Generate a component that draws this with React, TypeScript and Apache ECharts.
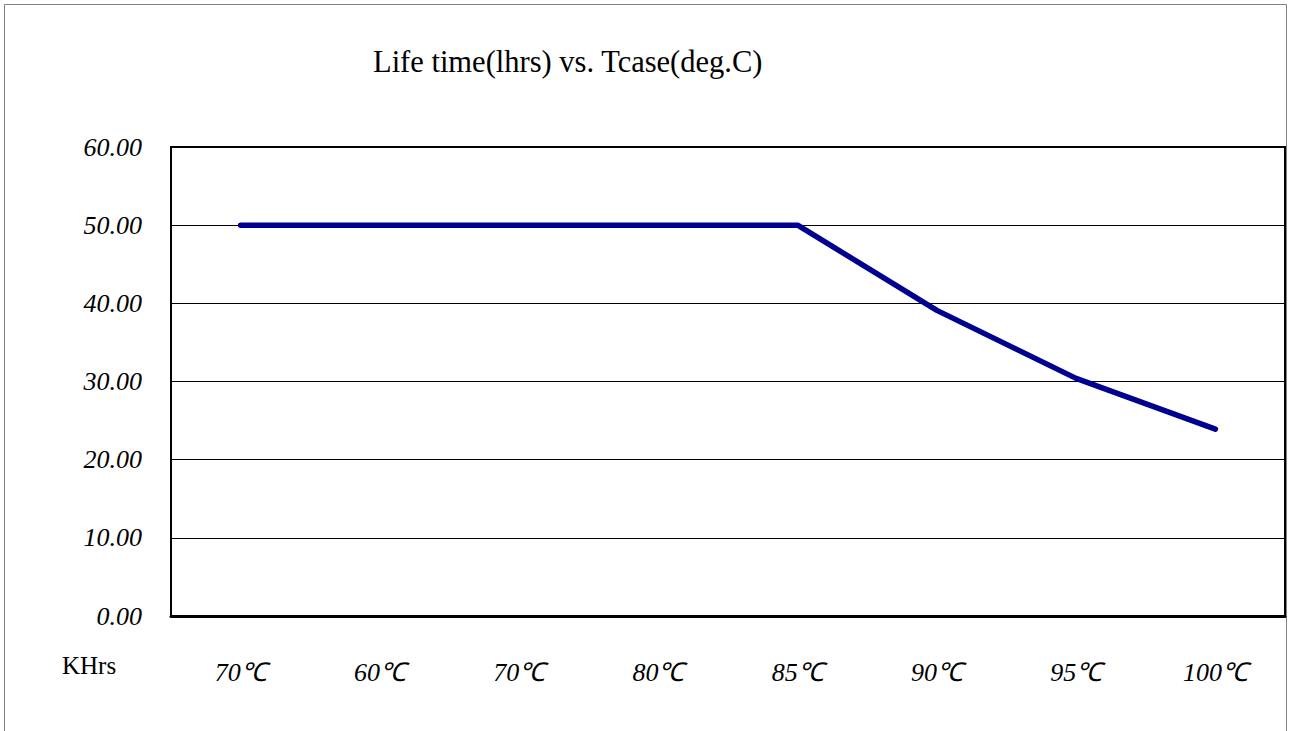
import React, { useEffect, useRef } from "react";
import * as echarts from "echarts";

const categories = ["70℃", "60℃", "70℃", "80℃", "85℃", "90℃", "95℃", "100℃"];
const lifeKHrs = [50, 50, 50, 50, 50, 39.1, 30.4, 23.9];
const titleText = "Life time(lhrs) vs. Tcase(deg.C)";
const unitText = "KHrs";

const FONT = "Liberation Serif";

export default function App() {
  const ref = useRef<HTMLDivElement>(null);
  useEffect(() => {
    if (!ref.current) return;
    const chart = echarts.init(ref.current, null, { renderer: "svg" });
    chart.setOption({
      animation: false,
      backgroundColor: "#ffffff",
      grid: {
        left: 171,
        top: 147,
        right: 9,
        bottom: 115,
        show: true,
        borderColor: "#000",
        borderWidth: 2,
        backgroundColor: "transparent",
      },
      xAxis: {
        type: "category",
        data: categories,
        boundaryGap: true,
        axisLine: { show: true, lineStyle: { color: "#000", width: 3 } },
        axisTick: { show: false },
        axisLabel: {
          color: "#000",
          fontFamily: FONT,
          fontStyle: "italic",
          fontSize: 26,
          margin: 43,
          interval: 0,
        },
      },
      yAxis: {
        type: "value",
        min: 0,
        max: 60,
        interval: 10,
        axisLine: { show: true, lineStyle: { color: "#000", width: 2 } },
        axisTick: { show: false },
        splitLine: { show: true, lineStyle: { color: "#000", width: 1 } },
        axisLabel: {
          color: "#000",
          fontFamily: FONT,
          fontStyle: "italic",
          fontSize: 26,
          margin: 29,
          formatter: (v: number) => v.toFixed(2),
        },
      },
      series: [
        {
          type: "line",
          data: lifeKHrs,
          symbol: "none",
          lineStyle: { color: "#000090", width: 5.5, cap: "round", join: "round" },
        },
      ],
      graphic: [
        {
          type: "rect",
          shape: { x: 4.5, y: 4.5, width: 1282, height: 760 },
          style: { fill: "none", stroke: "#808080", lineWidth: 1 },
          silent: true,
          z: -1,
        },
        {
          type: "text",
          x: 373,
          y: 62,
          style: {
            text: titleText,
            fontFamily: FONT,
            fontSize: 30.5,
            fill: "#000",
            align: "left",
            verticalAlign: "middle",
          },
        },
        {
          type: "text",
          x: 62,
          y: 665,
          style: {
            text: unitText,
            fontFamily: FONT,
            fontSize: 25,
            fill: "#000",
            align: "left",
            verticalAlign: "middle",
          },
        },
      ],
    });
    return () => chart.dispose();
  }, []);
  return (
    <div
      ref={ref}
      style={{ position: "absolute", left: 0, top: 0, width: 1294, height: 731 }}
    />
  );
}
